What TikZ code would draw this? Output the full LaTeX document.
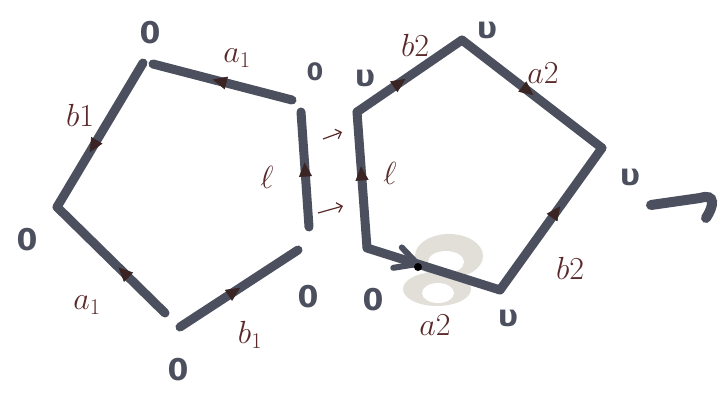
\RequirePackage{fix-cm}
\documentclass[tikz,border=0pt]{standalone}
\usepackage{fontspec}
\newfontfamily\marcador{DejaVu Sans}
\usetikzlibrary{arrows.meta,decorations.markings}
\definecolor{tinta}{HTML}{4B4F5E}
\definecolor{caneta}{HTML}{5A2A2A}
\definecolor{ponta}{HTML}{3A2424}
\definecolor{mancha}{HTML}{E2DED8}
\tikzset{
  aresta/.style={line width=9pt,tinta,line cap=round},
  seta/.style={postaction={decorate},decoration={markings,
      mark=at position #1 with {\arrow[ponta]{Triangle[length=14pt,width=13pt,line width=0.6pt]}}}},
  rotulo/.style={caneta,font=\fontsize{32}{34}\selectfont},
  marca/.style={tinta,font=\marcador\bfseries\fontsize{30}{30}\selectfont},
}
\begin{document}
\begin{tikzpicture}[x=1pt,y=-1pt]
        \useasboundingbox (0,0) rectangle (719,396);

        % Mancha de corretivo
        \fill[mancha] (449,256) ellipse (34pt and 22pt);
        \fill[mancha] (437,289) ellipse (34pt and 17pt);
        \fill[white] (446,262) ellipse (18pt and 11pt);
        \fill[white] (438,293) ellipse (16pt and 10pt);

        % Pentágono da esquerda
        \coordinate (E1) at (143,63);
        \coordinate (E1b) at (153,64);
        \coordinate (E2) at (292,100);
        \coordinate (E3) at (301,112);
        \coordinate (E4) at (309,227);
        \coordinate (E5) at (298,250);
        \coordinate (E6) at (180,327);
        \coordinate (E7) at (165,313);
        \coordinate (E8) at (57,207);

        \draw[aresta,seta=0.57] (E2) -- (E1b);
        \draw[aresta,seta=0.62] (E1) -- (E8);
        \draw[aresta,seta=0.43] (E7) -- (E8);
        \draw[aresta,seta=0.51] (E6) -- (E5);
        \draw[aresta,seta=0.56] (E4) -- (E3);

        % Pentágono da direita
        \coordinate (D1) at (357,112);
        \coordinate (D2) at (462,40);
        \coordinate (D3) at (602,148);
        \coordinate (D4) at (500,290);
        \coordinate (D5) at (367,248);

        \draw[aresta,seta=0.46] (D1) -- (D2);
        \draw[aresta,seta=0.51] (D2) -- (D3);
        \draw[aresta,seta=0.59] (D4) -- (D3);
        \draw[aresta,seta=0.6] (D5) -- (D1);
        \draw[aresta,postaction={decorate},decoration={markings,
            mark=at position 0.38 with {\draw[tinta,line width=6pt,line cap=round]
                (-20pt,11pt) -- (0pt,0pt) -- (-22pt,-11pt);}}] (D5) -- (D4);
        \fill[black] (418,267) circle (4pt);

        % Setinhas entre as faces
        \coordinate (S1) at (323,139);
        \coordinate (S2) at (342,132);
        \coordinate (S3) at (318,213);
        \coordinate (S4) at (343,206);
        \draw[caneta,line width=1.2pt,-{Straight Barb[length=5pt]}] (S1) -- (S2);
        \draw[caneta,line width=1.2pt,-{Straight Barb[length=5pt]}] (S3) -- (S4);

        % Seta grande
        \coordinate (G1) at (651,205);
        \coordinate (G2) at (700,198);
        \coordinate (G3) at (706,218);
        \draw[aresta,line width=10pt] (G1) -- (G2) .. controls (716,193) and (714,206) .. (G3);

        % Rótulos das arestas
        \node[rotulo] (ra1) at (237,58) {$a_1$};
        \node[rotulo] (rb1) at (80,115) {$b1$};
        \node[rotulo] (rl1) at (267,177) {$\ell$};
        \node[rotulo] (ra1b) at (87,305) {$a_1$};
        \node[rotulo] (rb1b) at (250,335) {$b_1$};
        \node[rotulo] (rb2) at (415,45) {$b2$};
        \node[rotulo] (ra2) at (543,73) {$a2$};
        \node[rotulo] (rl2) at (390,173) {$\ell$};
        \node[rotulo] (rb2b) at (570,268) {$b2$};
        \node[rotulo] (ra2b) at (435,325) {$a2$};

        % Marcas dos vértices
        \node[marca] (m1) at (150,33) {0};
        \node[marca,scale=0.8] (m2) at (315,72) {0};
        \node[marca] (m3) at (27,240) {0};
        \node[marca] (m4) at (308,297) {0};
        \node[marca] (m5) at (178,370) {0};
        \node[marca] (v1) at (365,78) {υ};
        \node[marca] (v2) at (487,30) {υ};
        \node[marca] (v3) at (630,177) {υ};
        \node[marca] (v4) at (508,318) {υ};
        \node[marca] (m6) at (373,300) {0};
\end{tikzpicture}
\end{document}
